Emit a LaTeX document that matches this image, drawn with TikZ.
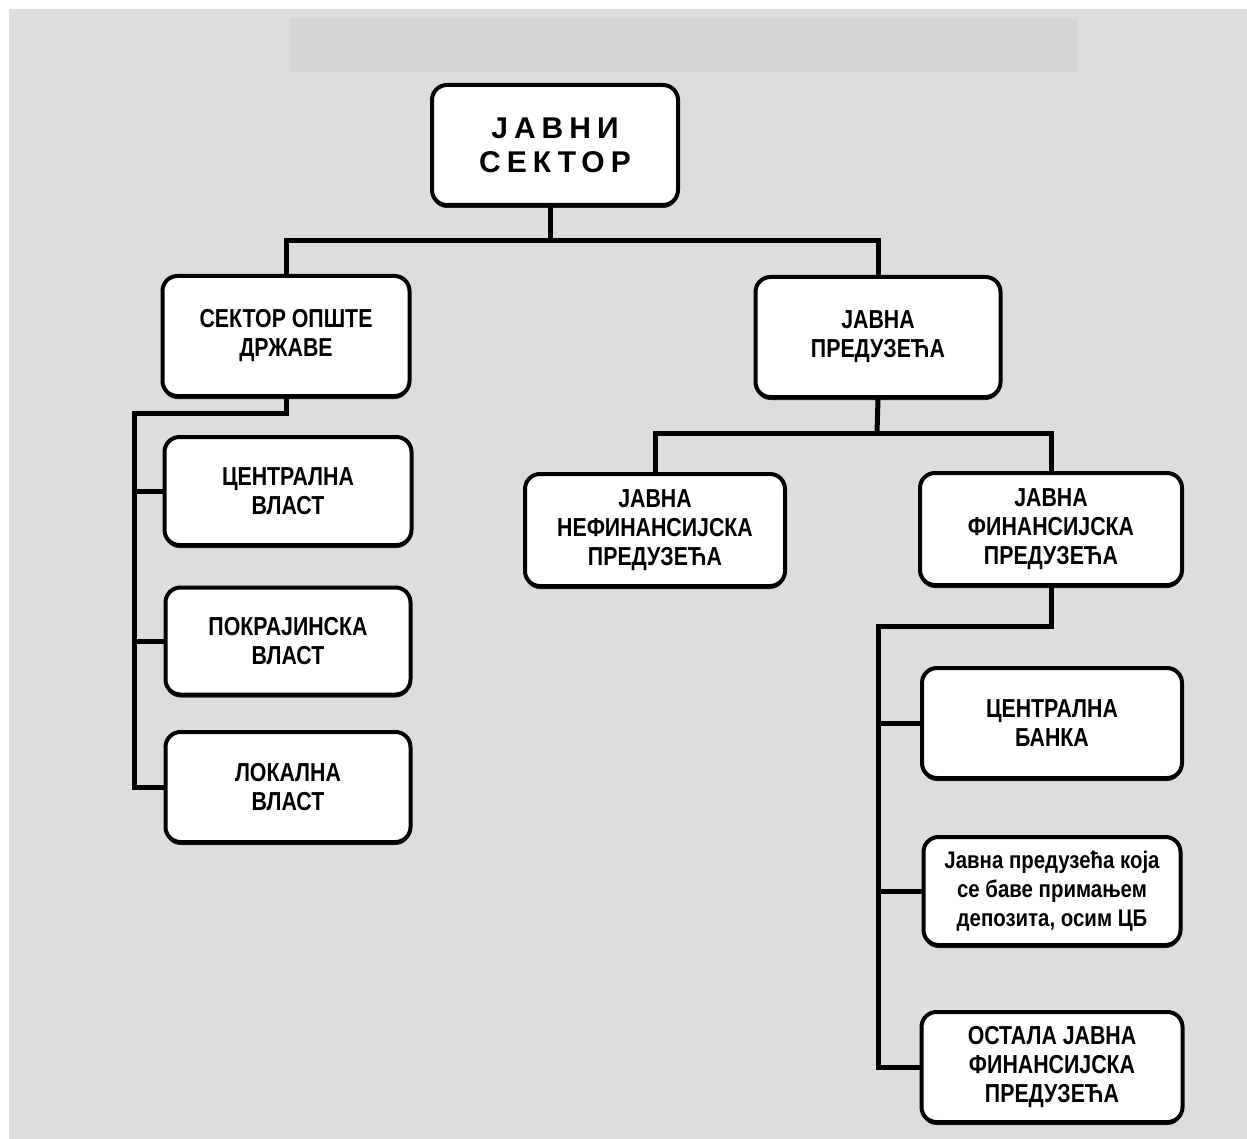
\documentclass[tikz,border=0pt]{standalone}
\usepackage{fontspec}
\setmainfont{Liberation Sans}
\newfontfamily\condfont{Liberation Sans}[FakeStretch=0.82]
\newfontfamily\depfont{Liberation Sans}[FakeStretch=0.85]
\newfontfamily\widefont{Liberation Sans}[LetterSpace=20]
\usetikzlibrary{shadows}
\definecolor{panel}{RGB}{221,221,221}
\definecolor{band}{RGB}{214,214,214}
\tikzset{
  orgbox/.style={draw=black, line width=4pt, fill=white, rounded corners=15pt,
    align=center, inner sep=0pt,
    drop shadow={shadow xshift=0pt, shadow yshift=-3pt, fill=black, opacity=0.85}},
  capsbox/.style={orgbox, font=\condfont\bfseries\fontsize{26}{29}\selectfont},
  smallbox/.style={orgbox, font=\depfont\bfseries\fontsize{24}{29}\selectfont},
  link/.style={draw=black, line width=5pt, line cap=rect, line join=miter}
}
\begin{document}
\begin{tikzpicture}[x=1pt, y=-1pt]
  % page and panel
  \path[fill=white] (0,0) rectangle (1247,1139);
  \useasboundingbox (0,0) rectangle (1247,1139);
  \path[fill=panel] (9,9) rectangle (1247,1139);
  \path[fill=band] (290,18) rectangle (1077,72);

  % boxes
  \node[orgbox, minimum width=246pt, minimum height=120pt,
        font=\widefont\bfseries\fontsize{30}{34}\selectfont]
        (top) at (555,145) {ЈАВНИ\\СЕКТОР};
  \node[capsbox, minimum width=247pt, minimum height=120pt] (sod) at (286,336)
        {СЕКТОР ОПШТЕ\\ДРЖАВЕ};
  \node[capsbox, minimum width=245pt, minimum height=120pt] (jp) at (878,337)
        {ЈАВНА\\ПРЕДУЗЕЋА};
  \node[capsbox, minimum width=247pt, minimum height=108pt] (cv) at (288,491)
        {ЦЕНТРАЛНА\\ВЛАСТ};
  \node[capsbox, minimum width=245pt, minimum height=107pt] (pv) at (288,641)
        {ПОКРАЈИНСКА\\ВЛАСТ};
  \node[capsbox, minimum width=245pt, minimum height=110pt] (lv) at (288,787)
        {ЛОКАЛНА\\ВЛАСТ};
  \node[capsbox, minimum width=260pt, minimum height=112pt] (jnp) at (655,530)
        {ЈАВНА\\НЕФИНАНСИЈСКА\\ПРЕДУЗЕЋА};
  \node[capsbox, minimum width=262pt, minimum height=112pt] (jfp) at (1051,529)
        {ЈАВНА\\ФИНАНСИЈСКА\\ПРЕДУЗЕЋА};
  \node[capsbox, minimum width=260pt, minimum height=110pt] (cb) at (1052,723)
        {ЦЕНТРАЛНА\\БАНКА};
  \node[smallbox, minimum width=257pt, minimum height=108pt] (dep) at (1052,891)
        {Јавна предузећа која\\се баве примањем\\депозита, осим ЦБ};
  \node[capsbox, minimum width=261pt, minimum height=110pt] (ost) at (1052,1067)
        {ОСТАЛА ЈАВНА\\ФИНАНСИЈСКА\\ПРЕДУЗЕЋА};

  % bus points
  \coordinate (topbus) at (550,241);
  \coordinate (sodbus) at (134,413);
  \coordinate (jpbus) at (877,433);
  \coordinate (jfpbus) at (878,626);

  % connectors
  \draw[link] ([xshift=-5pt]top.south) -- (topbus);
  \draw[link] (sod.north) |- (topbus) -| (jp.north);

  \draw[link] (sod.south) |- (sodbus) |- (lv.west);
  \draw[link] (sodbus |- cv.west) -- (cv.west);
  \draw[link] (sodbus |- pv.west) -- (pv.west);

  \draw[link] (jp.south) -- (jpbus);
  \draw[link] (jnp.north) |- (jpbus) -| (jfp.north);

  \draw[link] (jfp.south) |- (jfpbus) |- (ost.west);
  \draw[link] (jfpbus |- cb.west) -- (cb.west);
  \draw[link] (jfpbus |- dep.west) -- (dep.west);
\end{tikzpicture}
\end{document}
